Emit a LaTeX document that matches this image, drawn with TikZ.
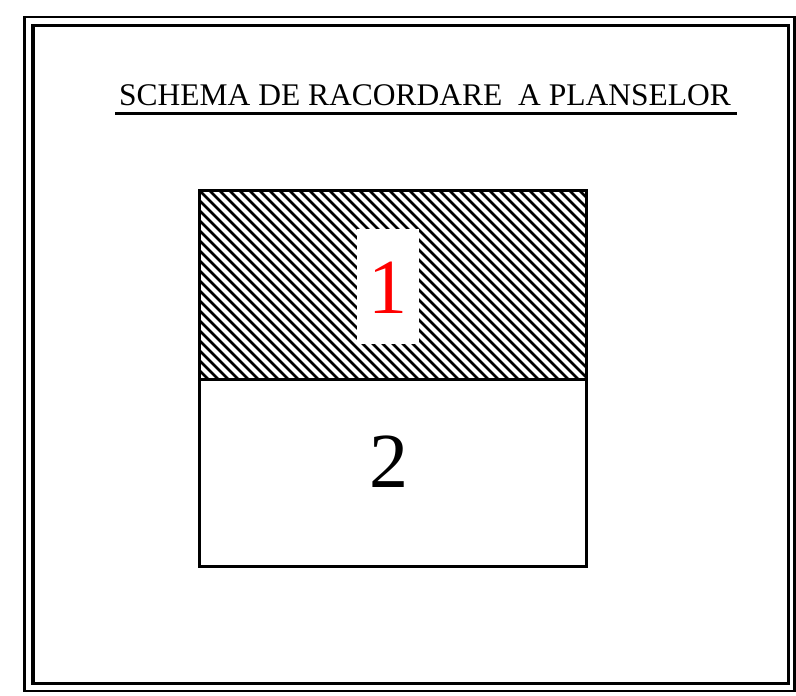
\documentclass[tikz,border=0pt]{standalone}
\usepackage{fontspec}
\setmainfont{Liberation Serif}
\begin{document}
\begin{tikzpicture}[x=1pt,y=-1pt,
  frameline/.style={draw=black},
  hatchline/.style={draw=black,line width=2.6pt},
  bigdigit/.style={font=\fontsize{78}{80}\selectfont,inner sep=0pt}]
\useasboundingbox (0,0) rectangle (796,696);
% double frame
\draw[frameline,line width=2.7pt] (24.8,17) rectangle (794.5,691);
\draw[frameline,line width=3.6pt] (33.2,25.6) rectangle (788.3,683.4);
% title
\node[anchor=base,inner sep=0pt,font=\fontsize{31.5}{33}\selectfont] (title) at (425,105.5)
  {SCHEMA DE RACORDARE\ \ A PLANSELOR};
\draw[line width=3pt] (115,113.5) -- (737,113.5);
% hatching of the upper part
\begin{scope}
  \clip (199,190) rectangle (586,379);
  \foreach \c in {-200,-190,...,400} {
    \draw[hatchline] (199+\c,190) -- ++(200,200);
  }
\end{scope}
\fill[white] (356.5,229) rectangle (418.5,344);
% plates
\draw[line width=3pt] (199,190) rectangle (586,566);
\draw[line width=3pt] (199,379) -- (586,379);
\node[bigdigit,text=red] (p1) at (388,288) {1};
\node[bigdigit] (p2) at (389,461.5) {2};
\end{tikzpicture}
\end{document}
